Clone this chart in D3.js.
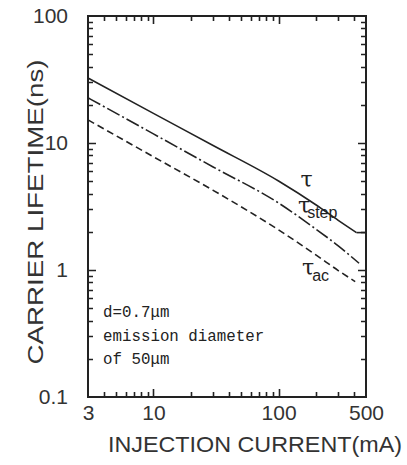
<!DOCTYPE html>
<html>
<head>
<meta charset="utf-8">
<script src="https://cdn.jsdelivr.net/npm/d3@7"></script>
<style>
  body { margin: 0; background: #fff; }
  svg { display: block; }
  .axis path { display: none; }
  .axis text { font-family: "Liberation Sans", Arial, sans-serif; font-size: 21px; fill: #333; }
  .curve { fill: none; stroke: #222; stroke-width: 1.6; }
</style>
</head>
<body>
<svg id="chart"></svg>
<script>
var W = 407, H = 465;
var m = {left: 88, top: 16, right: 41, bottom: 68};
var w = W - m.left - m.right;
var h = H - m.top - m.bottom;

// values
var tauI = [3, 10, 30, 100, 200, 300, 420, 500];
var tau = [32.5, 17.1, 9.55, 5.02, 3.25, 2.46, 1.97, 1.97];
var stepI = [3, 10, 30, 100, 200, 300, 440];
var tauStep = [22.7, 11.8, 6.48, 3.37, 2.09, 1.55, 1.13];
var acI = [3, 10, 30, 100, 200, 300, 410];
var tauAc = [15.2, 7.79, 4.24, 2.07, 1.31, 0.99, 0.81];

var xTicks = [3, 10, 100, 500];
var yTicks = [0.1, 1, 10, 100];
var xMajor = [10, 100];
var yMajor = [1, 10];
var xMinor = [4, 5, 6, 7, 8, 9, 20, 30, 40, 50, 60, 70, 80, 90, 200, 300, 400];
var yMinor = [];
[0.1, 1, 10].forEach(function(d) { for (var k = 2; k < 10; k++) yMinor.push(d * k); });

var x = d3.scaleLog().domain([3, 500]).range([0, w]);
var y = d3.scaleLog().domain([0.1, 100]).range([h, 0]);

var svg = d3.select("#chart").attr("width", W).attr("height", H);
var g = svg.append("g").attr("transform", "translate(" + m.left + "," + m.top + ")");

var fmt = function(d) { return d < 1 ? "0.1" : String(d); };

// tick labels
g.append("g").attr("class", "axis").attr("transform", "translate(0," + h + ")")
  .call(d3.axisBottom(x).tickValues(xTicks).tickSize(0).tickPadding(8).tickFormat(fmt));
g.append("g").attr("class", "axis")
  .call(d3.axisLeft(y).tickValues(yTicks).tickSize(0).tickPadding(20).tickFormat(fmt));

// inward tick marks on all four sides, as one path
var xt = xMajor.map(function(d) { return [d, 8]; }).concat(xMinor.map(function(d) { return [d, 5]; }));
var yt = yMajor.map(function(d) { return [d, 8]; }).concat(yMinor.map(function(d) { return [d, 5]; }));
var p = d3.path();
xt.forEach(function(d) {
  var px = Math.round(x(d[0])) + 0.5;
  p.moveTo(px, h); p.lineTo(px, h - d[1]);
  p.moveTo(px, 0); p.lineTo(px, d[1]);
});
yt.forEach(function(d) {
  var py = Math.round(y(d[0])) + 0.5;
  p.moveTo(0, py); p.lineTo(d[1], py);
  p.moveTo(w, py); p.lineTo(w - d[1], py);
});
g.append("path").attr("d", p.toString())
  .attr("fill", "none").attr("stroke", "#222").attr("stroke-width", 1.6);

g.append("rect").attr("width", w).attr("height", h)
  .attr("fill", "none").attr("stroke", "#222").attr("stroke-width", 2);

var line = d3.line().x(function(d) { return x(d[0]); }).y(function(d) { return y(d[1]); })
  .curve(d3.curveMonotoneX);
var flat = d3.line().x(function(d) { return x(d[0]); }).y(function(d) { return y(d[1]); });

var tauPts = d3.zip(tauI, tau);
g.append("path").attr("class", "curve").attr("d", line(tauPts.slice(0, 7)));
g.append("path").attr("class", "curve").attr("d", flat(tauPts.slice(6)));
g.append("path").attr("class", "curve").attr("stroke-dasharray", "14,3,2,3")
  .attr("d", line(d3.zip(stepI, tauStep)));
g.append("path").attr("class", "curve").attr("stroke-dasharray", "7,4")
  .attr("d", line(d3.zip(acI, tauAc)));

// curve labels
var lab = g.append("g").attr("font-family", "'DejaVu Serif', serif").attr("fill", "#222");
lab.append("text").attr("x", x(150)).attr("y", y(4.5)).attr("font-size", 22).text("τ");
var st = lab.append("text").attr("x", x(143)).attr("y", y(2.8)).attr("font-size", 22);
st.append("tspan").text("τ");
st.append("tspan").attr("font-family", "'Liberation Sans', sans-serif").attr("font-size", 16)
  .attr("dx", -3).attr("dy", 5).text("step");
var ac = lab.append("text").attr("x", x(154)).attr("y", y(0.92)).attr("font-size", 22);
ac.append("tspan").text("τ");
ac.append("tspan").attr("font-family", "'Liberation Sans', sans-serif").attr("font-size", 16)
  .attr("dx", -2).attr("dy", 6).text("ac");

// annotation
var note = ["d=0.7μm", "emission diameter", "of 50μm"];
g.append("g").selectAll("text").data(note).join("text")
  .attr("x", 15).attr("y", function(d, i) { return 301 + i * 23.5; })
  .attr("font-family", "'Liberation Mono', 'Courier New', monospace")
  .attr("font-size", 15.8).attr("fill", "#222")
  .text(function(d) { return d; });

// axis titles
svg.append("text").attr("x", 255).attr("y", 452).attr("text-anchor", "middle")
  .attr("font-family", "'Liberation Sans', Arial, sans-serif").attr("font-size", 22)
  .attr("fill", "#333").attr("textLength", 294).attr("lengthAdjust", "spacingAndGlyphs")
  .text("INJECTION CURRENT(mA)");
svg.append("text").attr("transform", "translate(43,212) rotate(-90)").attr("text-anchor", "middle")
  .attr("font-family", "'Liberation Sans', Arial, sans-serif").attr("font-size", 22)
  .attr("fill", "#333").attr("textLength", 305).attr("lengthAdjust", "spacingAndGlyphs")
  .text("CARRIER LIFETIME(ns)");
</script>
</body>
</html>
